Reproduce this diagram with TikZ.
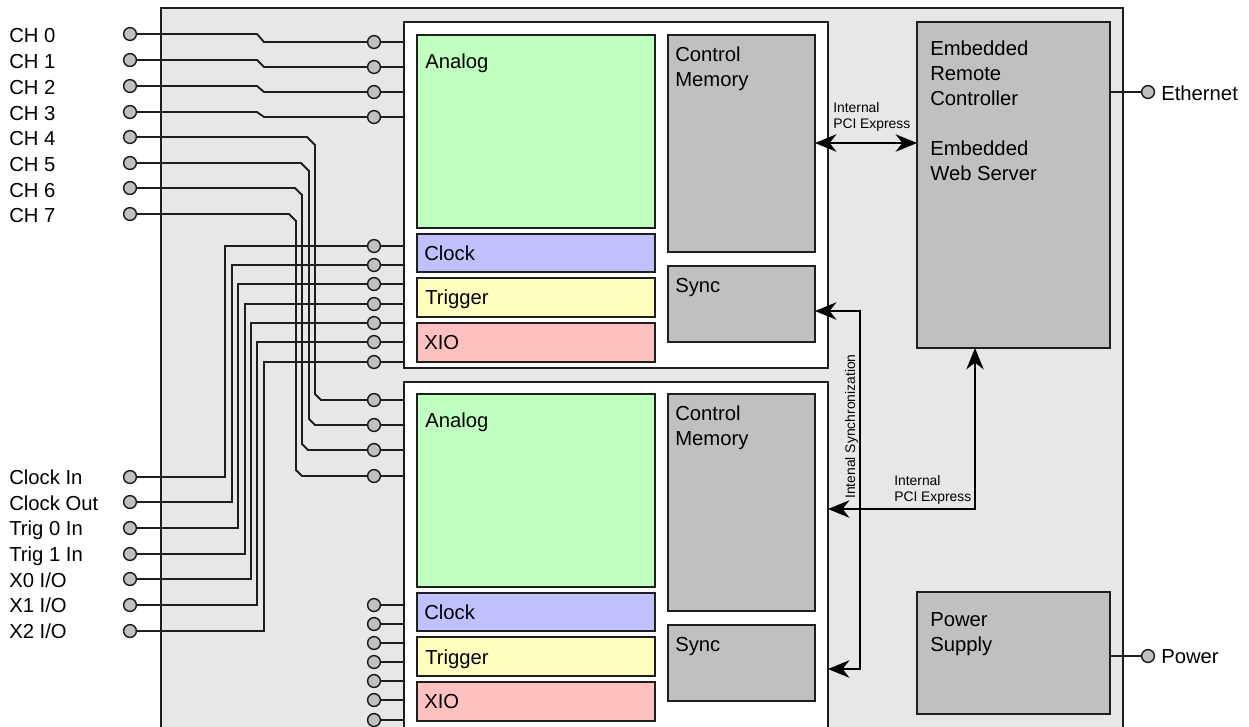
\documentclass[tikz,border=0pt]{standalone}
\usepackage{fontspec}
\setmainfont{Liberation Sans}
\usetikzlibrary{arrows.meta, positioning, calc}
\definecolor{linegray}{RGB}{30,30,30}
\definecolor{chassis}{RGB}{231,231,231}
\definecolor{analoggreen}{RGB}{192,255,192}
\definecolor{clockblue}{RGB}{192,192,255}
\definecolor{trigyellow}{RGB}{255,255,192}
\definecolor{xiored}{RGB}{255,192,192}
\definecolor{blockgray}{RGB}{192,192,192}

\begin{document}
\begin{tikzpicture}[
    x=0.75pt, y=-0.75pt,
    blk/.style={rectangle, draw=linegray, line width=1.4pt, inner sep=0pt, outer sep=0pt, anchor=north west},
    sz/.style 2 args={minimum width=#1*0.75pt, minimum height=#2*0.75pt},
    txt/.style={inner sep=0pt, anchor=north west, align=left, font=\fontsize{15.2}{18.75}\selectfont},
    small/.style={inner sep=0pt, align=left, font=\fontsize{10.4}{12.3}\selectfont},
    pin/.style={circle, draw=linegray, line width=1.1pt, fill=blockgray, minimum size=9.6pt, inner sep=0pt},
    pinlbl/.style={inner sep=0pt, anchor=west, text height=10.8pt, text depth=0pt, font=\fontsize{15.2}{18.75}\selectfont},
    wire/.style={draw=linegray, line width=1.4pt},
    bus/.style={draw=black, line width=1.6pt, arrows={Stealth[length=16pt, width=13pt, inset=5pt]-Stealth[length=16pt, width=13pt, inset=5pt]}}
]
    \useasboundingbox (0,0) rectangle (1249,726);
    \clip (0,0) rectangle (1249,726);

    % Chassis and modules
    \node[blk, fill=chassis, sz={962}{760}] (chassis) at (161,8) {};
    \node[blk, fill=white, sz={424}{346}] (modA) at (404,22) {};
    \node[blk, fill=white, sz={424}{360}] (modB) at (404,382) {};

    % Upper module
    \node[blk, fill=analoggreen, sz={238}{193}] (anaA) at (417,35) {};
    \node[blk, fill=blockgray, sz={147}{217}] (ctrlA) at (668,35) {};
    \node[blk, fill=clockblue, sz={238}{38}] (clkA) at (417,234) {};
    \node[blk, fill=trigyellow, sz={238}{39}] (trigA) at (417,278) {};
    \node[blk, fill=xiored, sz={238}{39}] (xioA) at (417,323) {};
    \node[blk, fill=blockgray, sz={147}{76}] (syncA) at (668,266) {};

    \node[txt] at (425,53.3) {Analog};
    \node[txt] at (675,46.7) {Control\\Memory};
    \node[txt] at (424,245.7) {Clock};
    \node[txt] at (425,290) {Trigger};
    \node[txt] at (424,335) {XIO};
    \node[txt] at (675,278) {Sync};

    % Lower module
    \node[blk, fill=analoggreen, sz={238}{193}] (anaB) at (417,394) {};
    \node[blk, fill=blockgray, sz={147}{217}] (ctrlB) at (668,394) {};
    \node[blk, fill=clockblue, sz={238}{38}] (clkB) at (417,593) {};
    \node[blk, fill=trigyellow, sz={238}{39}] (trigB) at (417,637) {};
    \node[blk, fill=xiored, sz={238}{39}] (xioB) at (417,682) {};
    \node[blk, fill=blockgray, sz={147}{76}] (syncB) at (668,625) {};

    \node[txt] at (425,412.7) {Analog};
    \node[txt] at (675,406) {Control\\Memory};
    \node[txt] at (424,605) {Clock};
    \node[txt] at (425,649.3) {Trigger};
    \node[txt] at (424,694.3) {XIO};
    \node[txt] at (675,637.3) {Sync};

    % Controller and power supply
    \node[blk, fill=blockgray, sz={193}{326}] (remote) at (917,22) {};
    \node[blk, fill=blockgray, sz={193}{122}] (psu) at (917,592) {};
    \node[txt] at (930,41) {Embedded\\Remote\\Controller\\[18.75pt]Embedded\\Web Server};
    \node[txt] at (930,612) {Power\\Supply};

    % Front panel connectors
    \node[pinlbl] at (9,35.5) {CH 0};
    \node[pinlbl] at (9,61.5) {CH 1};
    \node[pinlbl] at (9,87.5) {CH 2};
    \node[pinlbl] at (9,113.5) {CH 3};
    \node[pinlbl] at (9,138.5) {CH 4};
    \node[pinlbl] at (9,164.5) {CH 5};
    \node[pinlbl] at (9,190) {CH 6};
    \node[pinlbl] at (9,215) {CH 7};
    \node[pinlbl] at (9,477.5) {Clock In};
    \node[pinlbl] at (9,503) {Clock Out};
    \node[pinlbl] at (9,528.5) {Trig 0 In};
    \node[pinlbl] at (9,554.5) {Trig 1 In};
    \node[pinlbl] at (9,580) {X0 I/O};
    \node[pinlbl] at (9,605.5) {X1 I/O};
    \node[pinlbl] at (9,631.5) {X2 I/O};

    \node[pin] (ch0) at (130,34) {};
    \node[pin] (ch1) at (130,60) {};
    \node[pin] (ch2) at (130,86) {};
    \node[pin] (ch3) at (130,112) {};
    \node[pin] (ch4) at (130,137) {};
    \node[pin] (ch5) at (130,163) {};
    \node[pin] (ch6) at (130,188) {};
    \node[pin] (ch7) at (130,214) {};
    \node[pin] (clkin) at (130,477) {};
    \node[pin] (clkout) at (130,502) {};
    \node[pin] (trig0) at (130,528) {};
    \node[pin] (trig1) at (130,554) {};
    \node[pin] (xio0) at (130,579) {};
    \node[pin] (xio1) at (130,605) {};
    \node[pin] (xio2) at (130,631) {};

    % Module input pins
    \node[pin] (ia0) at (374,42) {};
    \node[pin] (ia1) at (374,67) {};
    \node[pin] (ia2) at (374,92) {};
    \node[pin] (ia3) at (374,117) {};
    \node[pin] (ib0) at (374,400) {};
    \node[pin] (ib1) at (374,425) {};
    \node[pin] (ib2) at (374,450) {};
    \node[pin] (ib3) at (374,476) {};
    \foreach \k/\ya/\yb in {0/246/605, 1/265/624, 2/284/643, 3/304/662, 4/323/681, 5/342/700, 6/362/720} {
        \node[pin] (ic\k) at (374,\ya) {};
        \node[pin] (id\k) at (374,\yb) {};
    }

    \foreach \p in {ia0,ia1,ia2,ia3,ic0,ic1,ic2,ic3,ic4,ic5,ic6}
        \draw[wire] (\p) -- (\p -| modA.west);
    \foreach \p in {ib0,ib1,ib2,ib3,id0,id1,id2,id3,id4,id5,id6}
        \draw[wire] (\p) -- (\p -| modB.west);

    % Channel wiring
    \draw[wire] (ch0) -- (257,34) -- (264,42) -- (ia0);
    \draw[wire] (ch1) -- (257,60) -- (264,67) -- (ia1);
    \draw[wire] (ch2) -- (257,86) -- (264,92) -- (ia2);
    \draw[wire] (ch3) -- (257,112) -- (264,117) -- (ia3);
    \draw[wire] (ch4) -- (307,137) -- (315,145) -- (315,394) -- (321,400) -- (ib0);
    \draw[wire] (ch5) -- (301,163) -- (309,171) -- (309,419) -- (315,425) -- (ib1);
    \draw[wire] (ch6) -- (295,188) -- (302,195) -- (302,444) -- (308,450) -- (ib2);
    \draw[wire] (ch7) -- (289,214) -- (296,221) -- (296,470) -- (302,476) -- (ib3);

    % Timing and digital wiring
    \draw[wire] (clkin) -- (225,477) |- (ic0);
    \draw[wire] (clkout) -- (232,502) |- (ic1);
    \draw[wire] (trig0) -- (238,528) |- (ic2);
    \draw[wire] (trig1) -- (245,554) |- (ic3);
    \draw[wire] (xio0) -- (251,579) |- (ic4);
    \draw[wire] (xio1) -- (257,605) |- (ic5);
    \draw[wire] (xio2) -- (264,631) |- (ic6);

    % Back panel connectors
    \node[pin] (eth) at (1148,92) {};
    \node[pinlbl] at (1161,93) {Ethernet};
    \draw[wire] (remote.east |- eth) -- (eth);
    \node[pin] (pwr) at (1148,656) {};
    \node[pinlbl] at (1161,656) {Power};
    \draw[wire] (psu.east |- pwr) -- (pwr);

    % Internal buses
    \coordinate (pcieA) at (866,143);
    \draw[bus] (pcieA -| ctrlA.east) -- (pcieA -| remote.west);
    \node[small, anchor=north west] (pcieAlbl) at (833,102) {Internal\\PCI Express};

    \coordinate (synctop) at (860,311);
    \coordinate (syncbot) at (860,669);
    \draw[bus] (synctop -| syncA.east) -- (synctop) -- (syncbot) -- (syncbot -| modB.east);
    \node[small, rotate=90] (synclbl) at (851.5,426.5) {Intenal Synchronization};

    \coordinate (pcieB) at (975,509);
    \draw[bus] (pcieB -| modB.east) -- (pcieB) -- (pcieB |- remote.south);
    \node[small, anchor=north west] (pcieBlbl) at (894,475) {Internal\\PCI Express};

\end{tikzpicture}
\end{document}
